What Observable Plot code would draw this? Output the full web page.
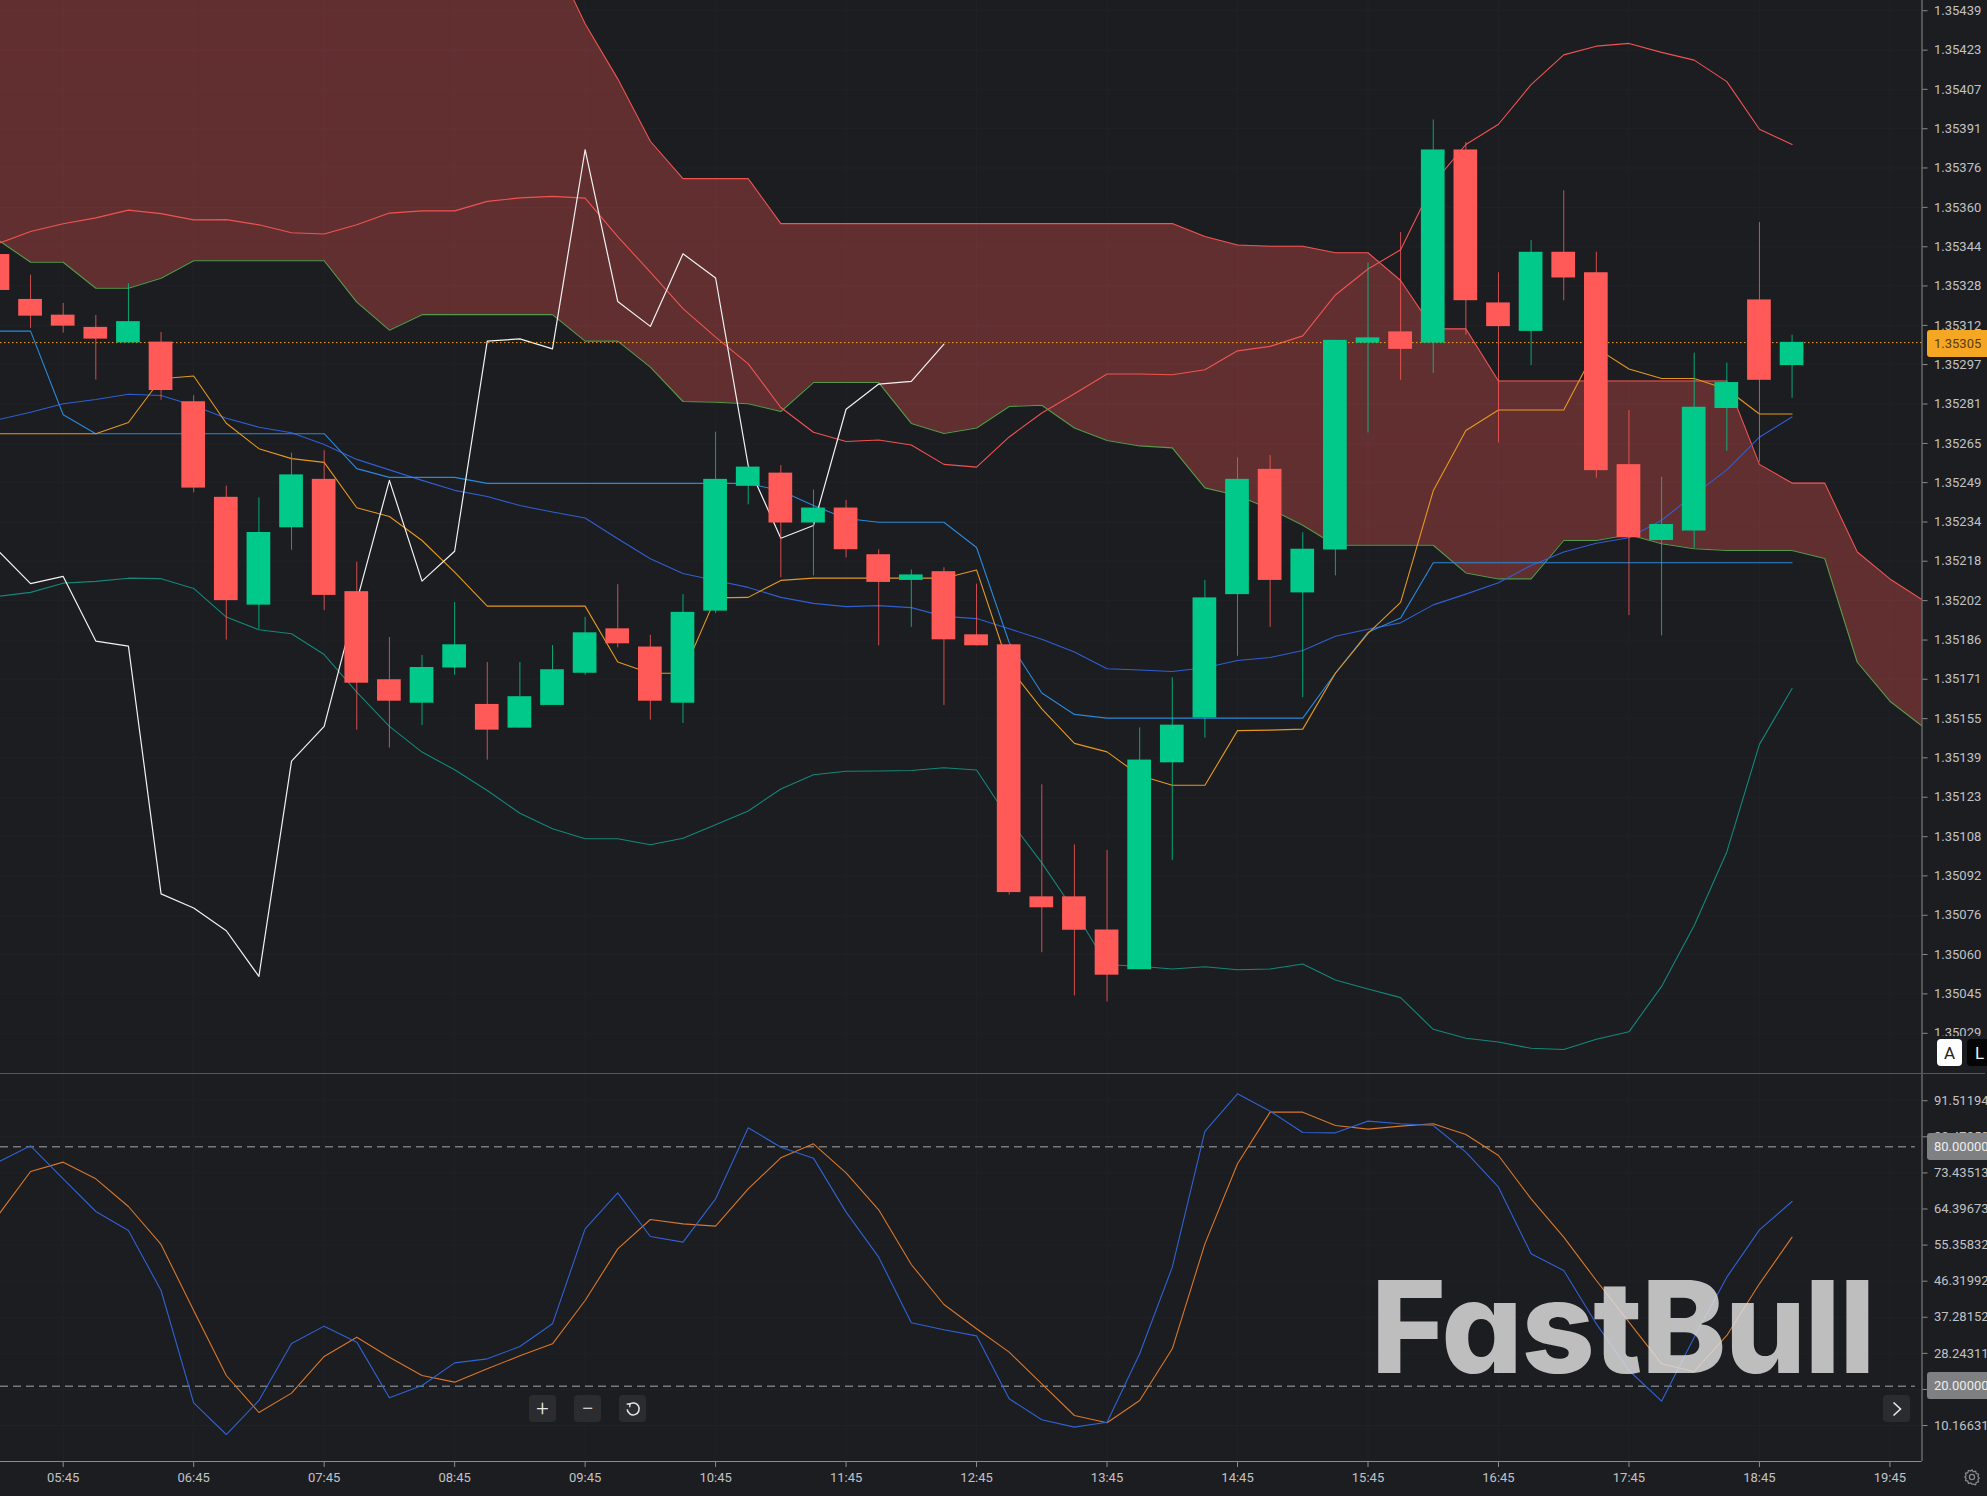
<!DOCTYPE html>
<html>
<head>
<meta charset="utf-8">
<script src="https://cdn.jsdelivr.net/npm/d3@7"></script>
<script src="https://cdn.jsdelivr.net/npm/@observablehq/plot@0.6"></script>
<style>
html,body{margin:0;padding:0;background:#1c1d21;overflow:hidden;width:1987px;height:1496px}
#wrap{position:relative;width:1987px;height:1496px;overflow:hidden;font-family:Roboto,sans-serif}
#wrap svg{display:block}
.ui{position:absolute;box-sizing:border-box;display:flex;align-items:center;justify-content:center}
.tag{left:1927px;width:70px;height:27px;border-radius:3px;font-size:13px;justify-content:flex-start;padding-left:7px}
.btn{top:1395px;width:27px;height:27px;border-radius:4px;background:#2a2c30;color:#e8e8e8}
</style>
</head>
<body>
<div id="wrap"></div>
<script>
const open=[1.353413,1.353233,1.353170,1.353121,1.353059,1.353062,1.352823,1.352440,1.352008,1.352318,1.352512,1.352062,1.351709,1.351615,1.351756,1.351610,1.351515,1.351606,1.351735,1.351913,1.351840,1.351615,1.351984,1.352484,1.352537,1.352337,1.352397,1.352210,1.352107,1.352142,1.351889,1.351849,1.350839,1.350839,1.350706,1.350547,1.351376,1.351556,1.352050,1.352552,1.352057,1.352229,1.353058,1.353103,1.353058,1.353832,1.353219,1.353105,1.353422,1.353340,1.352571,1.352267,1.352305,1.352796,1.353231,1.352968];
const close=[1.353269,1.353166,1.353126,1.353074,1.353144,1.352868,1.352477,1.352026,1.352299,1.352530,1.352047,1.351695,1.351623,1.351758,1.351849,1.351507,1.351641,1.351749,1.351897,1.351853,1.351623,1.351979,1.352512,1.352561,1.352337,1.352397,1.352230,1.352099,1.352129,1.351869,1.351845,1.350856,1.350795,1.350705,1.350525,1.351387,1.351527,1.352037,1.352512,1.352107,1.352232,1.353069,1.353079,1.353033,1.353832,1.353228,1.353124,1.353422,1.353319,1.352547,1.352278,1.352331,1.352801,1.352900,1.352909,1.353061];
const high=[1.353413,1.353330,1.353217,1.353169,1.353296,1.353101,1.352847,1.352485,1.352438,1.352617,1.352627,1.352180,1.351878,1.351806,1.352018,1.351778,1.351778,1.351846,1.351959,1.352090,1.351887,1.352050,1.352701,1.352561,1.352567,1.352469,1.352428,1.352230,1.352149,1.352158,1.352092,1.351849,1.351288,1.351047,1.351025,1.351516,1.351717,1.352107,1.352598,1.352607,1.352298,1.353069,1.353379,1.353501,1.353952,1.353862,1.353340,1.353469,1.353668,1.353422,1.352788,1.352520,1.353018,1.352978,1.353541,1.353090];
const low=[1.353269,1.353117,1.353098,1.352910,1.353059,1.352829,1.352458,1.351868,1.351911,1.352228,1.351986,1.351507,1.351435,1.351525,1.351727,1.351387,1.351515,1.351606,1.351727,1.351837,1.351547,1.351534,1.351975,1.352410,1.352118,1.352125,1.352197,1.351845,1.351919,1.351606,1.351845,1.350846,1.350615,1.350442,1.350418,1.350547,1.350985,1.351475,1.351803,1.351919,1.351637,1.352125,1.352698,1.352909,1.352936,1.353090,1.352658,1.352968,1.353228,1.352517,1.351966,1.351885,1.352236,1.352625,1.352581,1.352837];

const bbUpper=[1.353457,1.353505,1.353536,1.353560,1.353591,1.353577,1.353552,1.353553,1.353532,1.353500,1.353495,1.353532,1.353579,1.353588,1.353588,1.353626,1.353640,1.353646,1.353639,1.353485,1.353342,1.353196,1.353082,1.352975,1.352800,1.352701,1.352664,1.352670,1.352650,1.352572,1.352561,1.352682,1.352778,1.352855,1.352934,1.352934,1.352931,1.352951,1.353027,1.353045,1.353087,1.353251,1.353355,1.353432,1.353698,1.353854,1.353935,1.354094,1.354213,1.354248,1.354259,1.354223,1.354192,1.354106,1.353915,1.353854];
const bbMiddle=[1.352751,1.352781,1.352815,1.352832,1.352853,1.352848,1.352808,1.352757,1.352721,1.352699,1.352652,1.352592,1.352550,1.352508,1.352468,1.352443,1.352407,1.352381,1.352357,1.352274,1.352194,1.352135,1.352107,1.352079,1.352039,1.352015,1.352002,1.352006,1.351998,1.351963,1.351954,1.351913,1.351871,1.351820,1.351753,1.351748,1.351742,1.351757,1.351786,1.351798,1.351826,1.351883,1.351911,1.351937,1.352009,1.352052,1.352098,1.352167,1.352221,1.352256,1.352278,1.352348,1.352451,1.352550,1.352681,1.352762];
const bbLower=[1.352043,1.352059,1.352096,1.352103,1.352116,1.352114,1.352075,1.351960,1.351909,1.351893,1.351810,1.351659,1.351522,1.351419,1.351348,1.351265,1.351174,1.351112,1.351072,1.351072,1.351048,1.351074,1.351128,1.351183,1.351271,1.351328,1.351342,1.351343,1.351345,1.351356,1.351347,1.351149,1.350975,1.350782,1.350567,1.350561,1.350550,1.350559,1.350547,1.350550,1.350570,1.350506,1.350470,1.350435,1.350308,1.350272,1.350257,1.350232,1.350227,1.350268,1.350298,1.350480,1.350724,1.351019,1.351450,1.351674];
const kijun=[1.353106,1.353106,1.352771,1.352695,1.352695,1.352695,1.352695,1.352695,1.352695,1.352695,1.352695,1.352555,1.352520,1.352520,1.352520,1.352496,1.352496,1.352496,1.352496,1.352496,1.352496,1.352496,1.352496,1.352496,1.352466,1.352407,1.352355,1.352340,1.352340,1.352340,1.352239,1.351858,1.351656,1.351570,1.351555,1.351555,1.351555,1.351555,1.351555,1.351555,1.351555,1.351735,1.351899,1.351956,1.352178,1.352178,1.352178,1.352178,1.352178,1.352178,1.352178,1.352178,1.352178,1.352178,1.352178,1.352178];
const tenkan=[1.352695,1.352695,1.352695,1.352695,1.352740,1.352915,1.352926,1.352737,1.352635,1.352595,1.352580,1.352398,1.352363,1.352267,1.352140,1.352004,1.352004,1.352004,1.352004,1.351780,1.351735,1.351735,1.352037,1.352039,1.352107,1.352116,1.352116,1.352116,1.352116,1.352116,1.352149,1.351758,1.351592,1.351454,1.351420,1.351325,1.351286,1.351286,1.351505,1.351507,1.351511,1.351735,1.351895,1.352019,1.352466,1.352708,1.352790,1.352790,1.352790,1.353038,1.352954,1.352916,1.352916,1.352873,1.352774,1.352774];
const chikou=[1.352227,1.352094,1.352123,1.351864,1.351844,1.350851,1.350794,1.350703,1.350520,1.351383,1.351522,1.352024,1.352508,1.352104,1.352224,1.353066,1.353075,1.353035,1.353833,1.353225,1.353125,1.353416,1.353319,1.352567,1.352276,1.352327,1.352793,1.352894,1.352905,1.353054];
const spanTop=[1.355,1.355,1.355,1.355,1.355,1.355,1.355,1.355,1.355,1.355,1.355,1.355,1.355,1.355,1.355,1.355,1.355,1.354611,1.354338,1.354117,1.353867,1.353717,1.353717,1.353717,1.353537,1.353537,1.353537,1.353537,1.353537,1.353537,1.353537,1.353537,1.353537,1.353537,1.353537,1.353537,1.353537,1.353485,1.353451,1.353446,1.353446,1.353420,1.353420,1.353309,1.353115,1.353115,1.352906,1.352906,1.352906,1.352906,1.352906,1.352906,1.352906,1.352906,1.352572,1.352497,1.352497,1.352221,1.352113,1.352029];
const spanBottom=[1.353472,1.353382,1.353382,1.353278,1.353278,1.353318,1.353388,1.353388,1.353388,1.353388,1.353388,1.353222,1.353110,1.353172,1.353172,1.353172,1.353172,1.353172,1.353066,1.353066,1.352962,1.352824,1.352821,1.352815,1.352784,1.352900,1.352900,1.352900,1.352736,1.352696,1.352718,1.352804,1.352809,1.352718,1.352668,1.352646,1.352638,1.352478,1.352447,1.352393,1.352328,1.352248,1.352248,1.352248,1.352248,1.352137,1.352113,1.352113,1.352267,1.352267,1.352290,1.352254,1.352234,1.352227,1.352227,1.352227,1.352195,1.351779,1.351623,1.351522];

const stochK=[76.13,80.22,71.95,63.77,59.01,43.99,15.85,7.92,16.44,30.71,35.06,31.05,17.11,20.20,25.87,26.87,29.96,35.64,59.43,68.45,57.51,56.09,66.94,84.73,79.88,77.13,63.61,52.34,35.89,34.14,32.63,16.86,11.60,9.76,11.01,28.13,49.83,83.81,93.24,88.90,83.56,83.47,86.40,85.73,85.31,78.63,69.87,53.17,49.00,35.64,23.95,16.27,32.30,47.33,59.18,66.28];
const stochD=[62.77,73.79,76.13,71.95,65.02,55.51,38.98,22.70,13.43,18.28,27.46,32.30,27.29,22.70,21.03,24.37,27.63,30.63,41.48,54.42,61.77,60.68,60.10,69.45,77.21,80.72,73.46,64.19,50.50,40.48,34.39,28.54,20.61,12.68,10.85,16.44,29.38,55.67,75.71,88.65,88.65,85.31,84.39,85.14,85.73,83.06,77.80,66.94,57.34,46.49,36.06,25.62,23.70,32.72,45.66,57.34];

const priceTicks=[1.354390,1.354232,1.354075,1.353917,1.353760,1.353602,1.353444,1.353287,1.353129,1.352972,1.352814,1.352656,1.352499,1.352341,1.352184,1.352026,1.351868,1.351711,1.351553,1.351396,1.351238,1.351080,1.350923,1.350765,1.350608,1.350450,1.350292];
const priceTickLabels=["1.35439","1.35423","1.35407","1.35391","1.35376","1.35360","1.35344","1.35328","1.35312","1.35297","1.35281","1.35265","1.35249","1.35234","1.35218","1.35202","1.35186","1.35171","1.35155","1.35139","1.35123","1.35108","1.35092","1.35076","1.35060","1.35045","1.35029"];
const oscTicks=[91.51194,82.47353,73.43513,64.39673,55.35832,46.31992,37.28152,28.24311,19.20471,10.16631];
const oscLevels=[80,20];
const hourTicks=[345,405,465,525,585,645,705,765,825,885,945,1005,1065,1125,1185];
const hourLabels=["05:45","06:45","07:45","08:45","09:45","10:45","11:45","12:45","13:45","14:45","15:45","16:45","17:45","18:45","19:45"];
const lastPrice=1.35306;
const lastPriceLabel="1.35305";

const colors={bg:"#1c1d21",grid:"#202227",axis:"#8a8c90",text:"#c0c2c6",up:"#00c98a",down:"#ff5a58",bbU:"#ef5350",bbM:"#2f5fd0",bbL:"#14877a",kijun:"#2a88d8",tenkan:"#e5981f",chikou:"#f2f2f2",spanB:"#ef5350",spanA:"#56994a",stK:"#2f62d2",stD:"#d9772a",cur:"#f5a623",level:"#77797d"};

const T0=315, STEP=15;                 // minutes of day of the first bar, bar interval
const tAt=(_,i)=>T0+i*STEP;
const xDomain=[316.17,1199.75], xRange=[0,1921.5];
const bars=open.map((o,i)=>({t:tAt(o,i),open:o,close:close[i],high:high[i],low:low[i]}));
const tone=d=>d.close>=d.open?colors.up:colors.down;
const hourLabelOf=new Map(hourTicks.map((t,i)=>[t,hourLabels[i]]));
const priceLabelOf=new Map(priceTicks.map((t,i)=>[t,priceTickLabels[i]]));
const line=(vals,stroke,w=1.1)=>Plot.line(vals,{x:tAt,y:d=>d,stroke,strokeWidth:w,clip:true});

const price=Plot.plot({
  width:1987,height:1074,marginTop:0,marginLeft:0,marginRight:65.5,marginBottom:1,
  style:{background:colors.bg,fontFamily:"Roboto,sans-serif",fontSize:"13px",overflow:"hidden"},
  x:{domain:xDomain,range:xRange,axis:null},
  y:{domain:[1.354431,1.350131],range:[0,1073],axis:null},
  marks:[
    Plot.ruleX(hourTicks,{stroke:colors.grid}),
    Plot.ruleY(priceTicks,{stroke:colors.grid}),
    Plot.area(spanTop,{x1:tAt,y1:d=>d,y2:(_,i)=>spanBottom[i],fill:"#ef5350",fillOpacity:0.335,clip:true}),
    line(spanTop,colors.spanB),
    line(spanBottom,colors.spanA),
    line(bbUpper,colors.bbU),
    line(bbLower,colors.bbL),
    line(bbMiddle,colors.bbM),
    line(kijun,colors.kijun),
    line(tenkan,colors.tenkan),
    line(chikou,colors.chikou,1.2),
    Plot.ruleY([lastPrice],{stroke:colors.cur,strokeDasharray:"1.5,2.5",strokeWidth:1}),
    Plot.ruleX(bars,{x:"t",y1:"low",y2:"high",stroke:tone,strokeOpacity:0.8,strokeWidth:1,clip:true}),
    Plot.rect(bars,{x1:d=>d.t-5.45,x2:d=>d.t+5.45,y1:"open",y2:"close",fill:tone,clip:true,inset:0}),
    Plot.ruleX([xDomain[1]],{stroke:colors.axis,strokeWidth:1}),
    Plot.ruleY([1.350131],{stroke:"#55575b",strokeWidth:1,x1:xDomain[0],x2:1229}),
    Plot.axisY({anchor:"right",ticks:priceTicks,tickFormat:d=>priceLabelOf.get(d),tickSize:5,tickPadding:7,stroke:colors.axis,fill:colors.text,label:null,fontSize:13})
  ]
});

const osc=Plot.plot({
  width:1987,height:422,marginTop:0,marginLeft:0,marginRight:65.5,marginBottom:35,
  style:{background:colors.bg,fontFamily:"Roboto,sans-serif",fontSize:"13px",overflow:"hidden"},
  x:{domain:xDomain,range:xRange,axis:null},
  y:{domain:[98.08,1.16],range:[0,387],axis:null},
  marks:[
    Plot.ruleX(hourTicks,{stroke:colors.grid}),
    Plot.ruleY(oscTicks,{stroke:colors.grid}),
    Plot.ruleY(oscLevels,{x1:xDomain[0],x2:1196.7,stroke:colors.level,strokeWidth:1.4,strokeDasharray:"8,5"}),
    line(stochD,colors.stD),
    line(stochK,colors.stK),
    Plot.ruleX([xDomain[1]],{stroke:colors.axis,strokeWidth:1}),
    Plot.ruleY([1.16],{stroke:colors.axis,strokeWidth:1}),
    Plot.axisY({anchor:"right",ticks:oscTicks,tickFormat:d=>d.toFixed(5),tickSize:5,tickPadding:7,stroke:colors.axis,fill:colors.text,label:null,fontSize:13}),
    Plot.axisX({anchor:"bottom",ticks:hourTicks,tickFormat:d=>hourLabelOf.get(d),tickSize:6,tickPadding:5,stroke:colors.axis,fill:colors.text,label:null,fontSize:13})
  ]
});

const wrap=document.getElementById("wrap");
wrap.append(price,osc);

function ui(cls,css,html){const d=document.createElement("div");d.className="ui "+cls;d.style.cssText=css;d.innerHTML=html;wrap.append(d);return d;}
ui("tag","top:330px;background:#f5a623;color:#5a3c10;",lastPriceLabel);
ui("tag","top:1133px;background:#7f8082;color:#ececec;","80.00000");
ui("tag","top:1372px;background:#7f8082;color:#ececec;","20.00000");
ui("","left:1923px;top:1036px;width:64px;height:36px;background:#1c1d21;","");
ui("","left:1937px;top:1039px;width:25px;height:27px;border-radius:4px;background:#fff;color:#222;font-size:17px;","A");
ui("","left:1967px;top:1039px;width:25px;height:27px;border-radius:4px;background:#050506;color:#eee;font-size:17px;","L");
ui("btn","left:529px;font-size:22px;font-weight:300;","+");
ui("btn","left:574px;font-size:22px;font-weight:300;","−");
ui("btn","left:619px;",'<svg width="16" height="16" viewBox="0 0 16 16" fill="none" stroke="#e8e8e8" stroke-width="1.5"><path d="M4.2 3.4A6 6 0 1 1 2.2 8.4"/><path d="M1.6 3.2l3.4-.4-.3 3.4" stroke-width="1.3"/></svg>');
ui("btn","left:1883px;",'<svg width="12" height="18" viewBox="0 0 12 18" fill="none" stroke="#e8e8e8" stroke-width="1.6"><path d="M2.5 2.5L9.5 9L2.5 15.5"/></svg>');
ui("","left:1962px;top:1467px;width:20px;height:20px;",'<svg width="18" height="18" viewBox="0 0 18 18" fill="none" stroke="#8a8c90" stroke-width="1.2"><circle cx="9" cy="9" r="2.6"/><path d="M9 1.8l1.3 2 2.3-.6.6 2.3 2.3.6-.6 2.3 1.3 1.6-1.3 1.6.6 2.3-2.3.6-.6 2.3-2.3-.6L9 16.2l-1.3-1.4-2.3.6-.6-2.3-2.3-.6.6-2.3L1.800 9l1.3-1.400-.6-2.300 2.300-.6.6-2.300 2.300.6z"/></svg>');
ui("","left:1371px;top:1262px;width:510px;height:130px;color:rgba(218,218,218,.85);font-family:Inter,sans-serif;font-weight:800;font-size:128px;letter-spacing:-1.5px;font-feature-settings:'cv11' 1;justify-content:flex-start;line-height:130px;white-space:nowrap;","FastBull");
</script>
</body>
</html>
